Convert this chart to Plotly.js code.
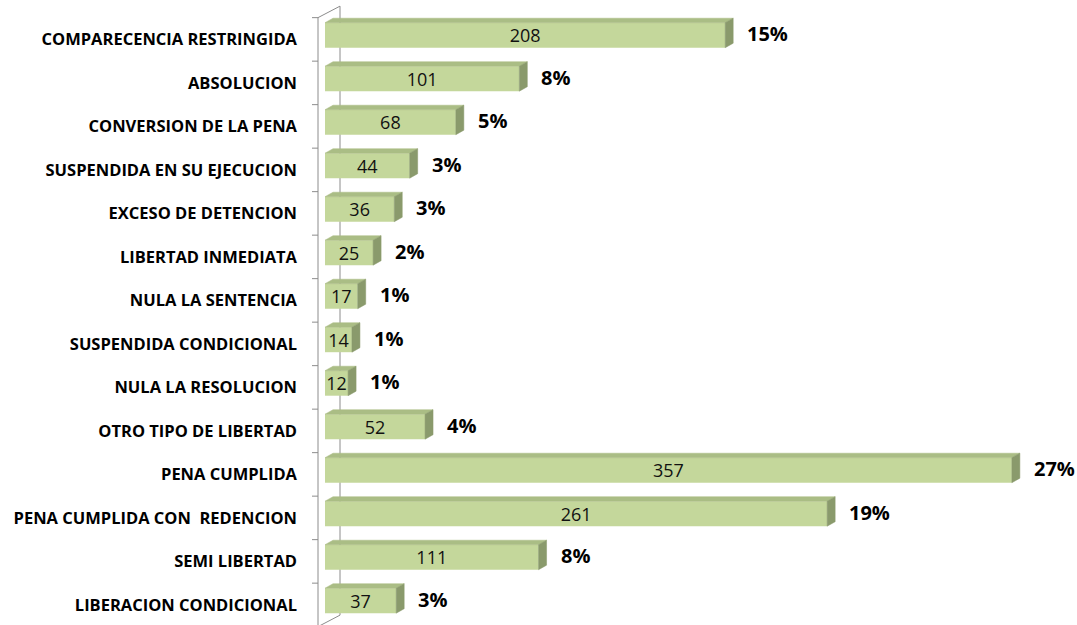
<!DOCTYPE html>
<html>
<head>
<meta charset="utf-8">
<script src="https://cdn.plot.ly/plotly-3.0.1.min.js"></script>
<style>
html,body{margin:0;padding:0;background:#fff;}
#chart{width:1077px;height:625px;}
</style>
</head>
<body>
<div id="chart"></div>
<script>
// ---- data ----
var categories = [
  "COMPARECENCIA RESTRINGIDA",
  "ABSOLUCION",
  "CONVERSION DE LA PENA",
  "SUSPENDIDA EN SU EJECUCION",
  "EXCESO DE DETENCION",
  "LIBERTAD INMEDIATA",
  "NULA LA SENTENCIA",
  "SUSPENDIDA CONDICIONAL",
  "NULA LA RESOLUCION",
  "OTRO TIPO DE LIBERTAD",
  "PENA CUMPLIDA",
  "PENA CUMPLIDA CON  REDENCION",
  "SEMI LIBERTAD",
  "LIBERACION CONDICIONAL"
];
var values = [208, 101, 68, 44, 36, 25, 17, 14, 12, 52, 357, 261, 111, 37];
var percents = ["15%", "8%", "5%", "3%", "3%", "2%", "1%", "1%", "1%", "4%", "27%", "19%", "8%", "3%"];

// ---- geometry (style) ----
var W = 1077, H = 625;
var ML = 300, MR = 5;
var PXX = 1.924;            // pixels per unit on x
var PXY = 43.5;             // pixels per category
var C0 = 39.4;              // pixel of first category centre
var plotW = W - ML - MR;
var xmin = -25 / PXX;       // value 0 sits 25px right of the plot edge
var xmax = xmin + plotW / PXX;
var yTopR = -C0 / PXY;
var yBotR = (H - C0) / PXY;

var BAR_OFF = -0.384, BAR_W = 0.575;
var DX = 8 / PXX, DY = 4.5 / PXY;

var FRONT = "#c4d79b", TOP = "#aabd85", SIDE = "#8a9a6c";

var idx = categories.map(function (c, i) { return i; });

// front faces
var front = {
  type: "bar", orientation: "h",
  y: idx, x: values,
  offset: BAR_OFF, width: BAR_W,
  marker: { color: FRONT, line: { width: 0 } },
  text: values.map(String),
  textposition: "inside", insidetextanchor: "middle",
  constraintext: "none", textangle: 0,
  textfont: { family: "Open Sans, sans-serif", size: 18, color: "#111" },
  hoverinfo: "none", showlegend: false, cliponaxis: false
};

// top and side faces
var tx = [], ty = [];
var sx = [], sy = [];
values.forEach(function (v, i) {
  var yT = i + BAR_OFF, yB = i + BAR_OFF + BAR_W;
  tx.push(0, v, v + DX, DX, 0, null);
  ty.push(yT, yT, yT - DY, yT - DY, yT, null);
  sx.push(v, v + DX, v + DX, v, v, null);
  sy.push(yT, yT - DY, yB - DY, yB, yT, null);
});
var topFaces = {
  type: "scatter", mode: "lines", x: tx, y: ty, fill: "toself",
  fillcolor: TOP, line: { width: 0.5, color: TOP },
  hoverinfo: "none", showlegend: false
};
var sideFaces = {
  type: "scatter", mode: "lines", x: sx, y: sy, fill: "toself",
  fillcolor: SIDE, line: { width: 0.5, color: SIDE },
  hoverinfo: "none", showlegend: false
};

// percentage labels
var annotations = values.map(function (v, i) {
  return {
    x: v, y: i + BAR_OFF + BAR_W / 2 - 0.03, xref: "x", yref: "y",
    text: percents[i], showarrow: false, xanchor: "left", yanchor: "middle",
    xshift: 8 + 12,
    font: { family: "Open Sans, sans-serif", size: 20, color: "#000", weight: "bold" }
  };
});

// axis frame (3D walls)
var AX = "#8c8c8c";
var frontX = -7 / PXX, backX = frontX + 22 / PXX;
var backDY = 11.5 / PXY;
var shapes = [];
shapes.push({ type: "line", xref: "x", yref: "y", x0: frontX, x1: frontX, y0: -0.5, y1: 13.5, line: { color: AX, width: 1 }, layer: "below" });
shapes.push({ type: "line", xref: "x", yref: "y", x0: backX, x1: backX, y0: -0.5 - backDY, y1: 13.5 - backDY, line: { color: AX, width: 1 }, layer: "below" });
shapes.push({ type: "line", xref: "x", yref: "y", x0: frontX, x1: backX, y0: -0.5, y1: -0.5 - backDY, line: { color: AX, width: 1 }, layer: "below" });
shapes.push({ type: "line", xref: "x", yref: "y", x0: frontX, x1: backX, y0: 13.5, y1: 13.5 - backDY, line: { color: AX, width: 1 }, layer: "below" });
for (var k = 0; k <= categories.length; k++) {
  shapes.push({ type: "line", xref: "x", yref: "y", x0: frontX - 6 / PXX, x1: frontX, y0: k - 0.5, y1: k - 0.5, line: { color: AX, width: 1 }, layer: "below" });
}

var layout = {
  width: W, height: H,
  margin: { l: ML, r: MR, t: 0, b: 0, pad: 0 },
  paper_bgcolor: "#fff", plot_bgcolor: "#fff",
  showlegend: false,
  xaxis: { range: [xmin, xmax], visible: false, showgrid: false, zeroline: false, fixedrange: true },
  yaxis: {
    range: [yBotR, yTopR], tickmode: "array", tickvals: idx, ticktext: categories,
    ticks: "", showgrid: false, zeroline: false, showline: false,
    ticklabelstandoff: 2,
    tickfont: { family: "Open Sans, sans-serif", size: 16.5, color: "#000", weight: "bold" },
    fixedrange: true
  },
  shapes: shapes,
  annotations: annotations
};

Plotly.newPlot("chart", [front, topFaces, sideFaces], layout, { displayModeBar: false, staticPlot: true });
</script>
</body>
</html>
